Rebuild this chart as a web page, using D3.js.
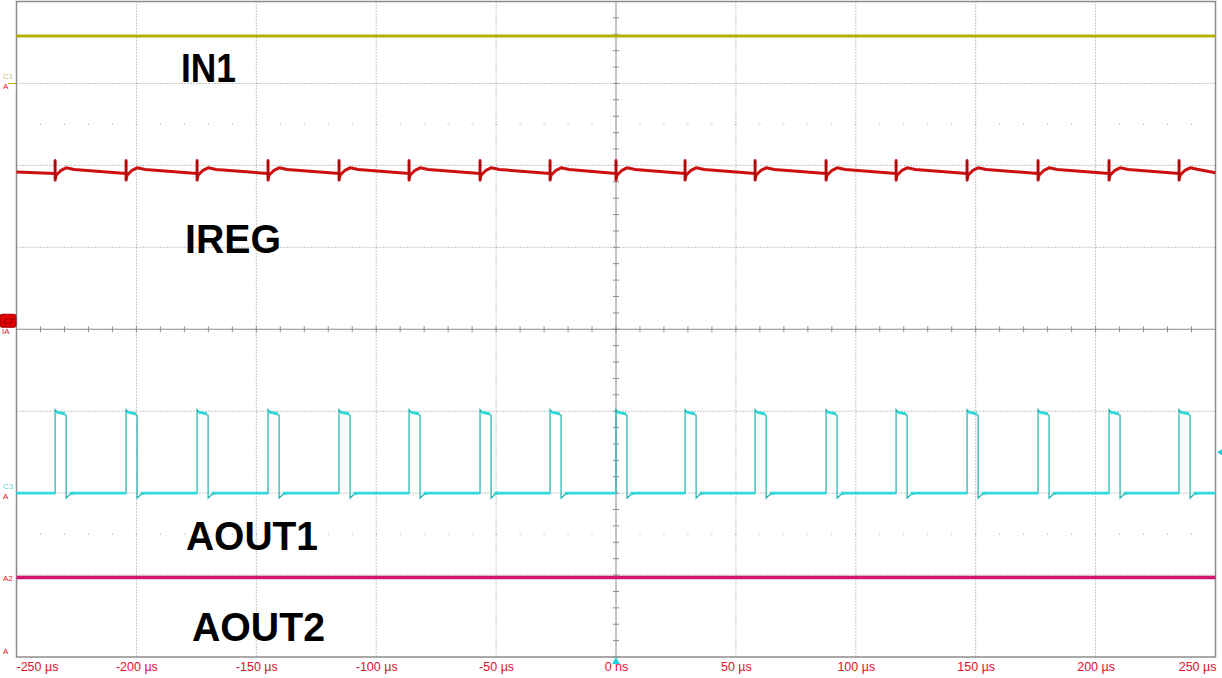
<!DOCTYPE html>
<html>
<head>
<meta charset="utf-8">
<script src="https://cdn.jsdelivr.net/npm/d3@7"></script>
<style>
  html, body { margin: 0; padding: 0; background: #fff; }
  svg { display: block; font-family: "Liberation Sans", Arial, sans-serif; }
</style>
</head>
<body>
<script>
// time axis, µs
const timeTicks = [-250, -200, -150, -100, -50, 0, 50, 100, 150, 200, 250];
// vertical in divisions (-4..4), 0 = screen centre
const in1Level = 3.58;
const aout2Level = -3.03;

// AOUT1 pulses (µs)
const pulseRise = [-233.9, -204.3, -174.7, -145.1, -115.5, -86.3, -56.7, -27.5, 0, 28.8, 58.0, 87.6, 116.8, 146.4, 176.0, 205.6, 234.8];
const pulseFall = [-229.3, -199.7, -170.1, -140.5, -110.9, -81.7, -52.1, -22.9, 4.6, 33.4, 62.6, 92.2, 121.4, 151.0, 180.6, 210.2, 239.4];
const aout1Low = -2.0, aout1High = -1.02, aout1Over = -0.98, aout1Under = -2.06;

// IREG: sawtooth levels, spikes at each switching edge
const iregTrough = 1.90, iregPeak = 1.97, iregSpikeTop = 2.06, iregSpikeBottom = 1.82, iregStart = 1.92;

const labels = [
  {text: "IN1",   x: 181, y: 82,  w: 55},
  {text: "IREG",  x: 185, y: 253, w: 96},
  {text: "AOUT1", x: 186, y: 550, w: 132},
  {text: "AOUT2", x: 192, y: 641, w: 133}
];

const W = 1222, H = 678;
const L = 16.5, R = 1215.5, T = 1.5, B = 657;

const svg = d3.select("body").append("svg")
  .attr("width", W).attr("height", H);

const x = d3.scaleLinear().domain([-250, 250]).range([L, R]);
const y = d3.scaleLinear().domain([-4, 4]).range([B, T]);

// graticule
const grid = svg.append("g");
d3.range(-4, 5).forEach(d => {
  if (d === 0 || d === 4 || d === -4) return;
  grid.append("line").attr("x1", L).attr("x2", R).attr("y1", y(d)).attr("y2", y(d))
    .attr("stroke", "#8c8c8c").attr("stroke-dasharray", "1,2");
});
timeTicks.forEach(d => {
  if (d === 0 || Math.abs(d) === 250) return;
  grid.append("line").attr("x1", x(d)).attr("x2", x(d)).attr("y1", T).attr("y2", B)
    .attr("stroke", "#8c8c8c").attr("stroke-dasharray", "1,2");
});
// minor dot rows
[2.5, -2.5].forEach(r => {
  d3.range(-250, 250.1, 10).forEach(t => {
    grid.append("rect").attr("x", x(t) - 0.5).attr("y", y(r) - 0.5)
      .attr("width", 1).attr("height", 1).attr("fill", "#9a9a9a");
  });
});
// centre axes with ticks
grid.append("line").attr("x1", L).attr("x2", R).attr("y1", y(0)).attr("y2", y(0))
  .attr("stroke", "#8c8c8c").attr("stroke-width", 1);
grid.append("line").attr("x1", x(0)).attr("x2", x(0)).attr("y1", T).attr("y2", B)
  .attr("stroke", "#8c8c8c").attr("stroke-width", 1);
d3.range(-250, 250.1, 10).forEach(t => {
  grid.append("line").attr("x1", x(t)).attr("x2", x(t)).attr("y1", y(0) - 3).attr("y2", y(0) + 3)
    .attr("stroke", "#8c8c8c");
});
d3.range(-4, 4.01, 0.2).forEach(v => {
  grid.append("line").attr("x1", x(0) - 3).attr("x2", x(0) + 3).attr("y1", y(v)).attr("y2", y(v))
    .attr("stroke", "#8c8c8c");
});
// frame
svg.append("rect").attr("x", L).attr("y", T).attr("width", R - L).attr("height", B - T)
  .attr("fill", "none").attr("stroke", "#8c8c8c").attr("stroke-width", 1.5);

const line = d3.line().x(d => x(d[0])).y(d => y(d[1]));

// IN1
svg.append("path").attr("d", line([[-250, in1Level], [250, in1Level]]))
  .attr("stroke", "#b5af00").attr("stroke-width", 3).attr("fill", "none");

// IREG
const ireg = [[-250, iregStart]];
pulseRise.forEach((e, i) => {
  ireg.push([e, iregTrough], [e, iregSpikeTop], [e, iregSpikeBottom], [e + 0.4, iregTrough - 0.02],
    [e + 2.5, iregPeak - 0.03], [e + 4.6, iregPeak], [e + 8, iregPeak - 0.02]);
});
ireg.push([250, iregTrough + 0.01]);
svg.append("path").attr("d", line(ireg))
  .attr("stroke", "#cc1010").attr("stroke-width", 3).attr("fill", "none")
  .attr("stroke-linejoin", "round");
// thin spike lines
pulseRise.forEach(e => {
  svg.append("line").attr("x1", x(e)).attr("x2", x(e)).attr("y1", y(iregSpikeTop)).attr("y2", y(iregSpikeBottom))
    .attr("stroke", "#8a0a0a").attr("stroke-width", 1);
});

// AOUT1
const aout = [[-250, aout1Low]];
pulseRise.forEach((r, i) => {
  const f = pulseFall[i];
  aout.push([r, aout1Low], [r, aout1Over], [r + 1.2, aout1High], [f, aout1High - 0.03],
    [f, aout1Under], [f + 1.5, aout1Low - 0.02], [f + 4, aout1Low]);
});
aout.push([250, aout1Low]);
svg.append("path").attr("d", line(aout))
  .attr("stroke", "#1fb0b0").attr("stroke-width", 1.2).attr("fill", "none");
// thick level segments
const segs = [];
pulseRise.forEach((r, i) => {
  const prevF = i === 0 ? -250 : pulseFall[i - 1] + 1.5;
  segs.push([[prevF, aout1Low], [r, aout1Low]]);
  segs.push([[r + 0.5, aout1High + 0.01], [pulseFall[i] - 0.5, aout1High - 0.01]]);
});
segs.push([[pulseFall[pulseFall.length - 1] + 1.5, aout1Low], [250, aout1Low]]);
segs.forEach(s => {
  svg.append("path").attr("d", line(s))
    .attr("stroke", "#30dada").attr("stroke-width", 2.8).attr("fill", "none");
});

// AOUT2
svg.append("path").attr("d", line([[-250, aout2Level], [250, aout2Level]]))
  .attr("stroke", "#d3176f").attr("stroke-width", 3.4).attr("fill", "none");

// channel labels
labels.forEach(l => {
  svg.append("text").attr("x", l.x).attr("y", l.y)
    .attr("textLength", l.w).attr("lengthAdjust", "spacingAndGlyphs")
    .style("font-size", "41px").style("font-weight", "bold").attr("fill", "#000")
    .text(l.text);
});

// time axis
const axis = svg.append("g").attr("transform", `translate(0,${B})`)
  .call(d3.axisBottom(x).tickValues(timeTicks).tickSize(0).tickPadding(5)
    .tickFormat(d => d === 0 ? "0 ns" : d + " µs"));
axis.select(".domain").remove();
axis.selectAll("text").attr("fill", "#e0102a").style("font-size", "12.5px")
  .style("font-family", "\"Liberation Sans\", Arial, sans-serif")
  .attr("text-anchor", d => d === -250 ? "start" : d === 250 ? "end" : "middle")
  .attr("dx", d => d === -250 ? "-0.5" : d === 250 ? "0.5" : 0);

// side markers
const mk = svg.append("g").style("font-size", "8px");
mk.append("text").attr("x", 3).attr("y", y(3) - 4).attr("fill", "#c9c27a").text("C1");
mk.append("text").attr("x", 3).attr("y", y(3) + 6).attr("fill", "#e01020").text("A");
mk.append("line").attr("x1", 8).attr("x2", L).attr("y1", y(3)).attr("y2", y(3)).attr("stroke", "#b5af00");
mk.append("rect").attr("x", 0).attr("y", y(0) - 15).attr("width", 16).attr("height", 13).attr("rx", 2)
  .attr("fill", "#e00000").attr("stroke", "#a00000");
mk.append("text").attr("x", 3).attr("y", y(0) - 5).attr("fill", "#700000").text("C7");
mk.append("text").attr("x", 2).attr("y", y(0) + 5).attr("fill", "#e01020").text("IA");
mk.append("text").attr("x", 3).attr("y", y(aout1Low) - 4).attr("fill", "#5fd7e0").text("C3");
mk.append("text").attr("x", 3).attr("y", y(aout1Low) + 6).attr("fill", "#e01020").text("A");
mk.append("text").attr("x", 3).attr("y", y(aout2Level) + 3).attr("fill", "#e01020").text("A2");
mk.append("text").attr("x", 3).attr("y", y(-4) - 3).attr("fill", "#e01020").text("A");
// right cyan marker and trigger marker
svg.append("path").attr("d", `M1217,${y(-1.5)} l5,-3 v6 z`).attr("fill", "#22c8d8");
svg.append("path").attr("d", `M${x(0)},${B} l-4,7 h8 z`).attr("fill", "#22d0e0");
</script>
</body>
</html>
